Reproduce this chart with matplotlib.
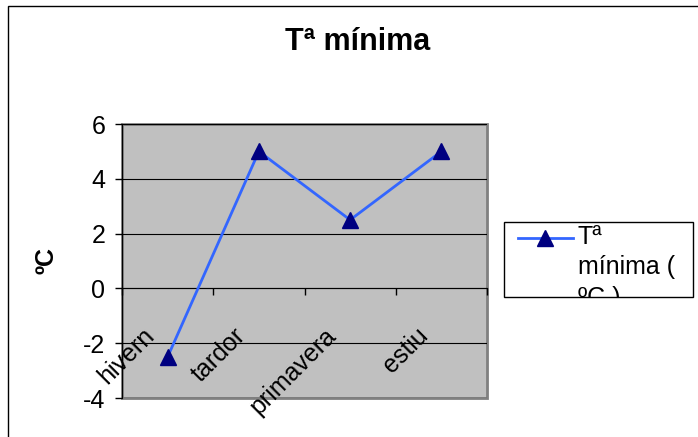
import matplotlib
matplotlib.use("Agg")
import matplotlib.pyplot as plt
from matplotlib.patches import Rectangle
from matplotlib.lines import Line2D

plt.rcParams["font.family"] = ["Liberation Sans", "DejaVu Sans"]

# seasonal minimum temperature (ºC)
seasons = ["hivern", "tardor", "primavera", "estiu"]
t_min = [-2.5, 5, 2.5, 5]
y_ticks = [-4, -2, 0, 2, 4, 6]

W, H = 698, 437
fig = plt.figure(figsize=(W / 100, H / 100), dpi=100)

# outer chart frame
fig.patches.append(Rectangle((8 / W, -0.1), 1.2, 1 - 6 / H + 0.1,
                             transform=fig.transFigure, fill=False,
                             edgecolor="black", linewidth=1.0))

ax = fig.add_axes([122 / W, 39 / H, 365 / W, 274 / H])
ax.set_facecolor("#C0C0C0")
ax.patch.set_edgecolor("#808080")
ax.patch.set_linewidth(2.0)

x = list(range(len(seasons)))
ax.plot(x, t_min, color="#3366FF", linewidth=2, marker="^",
        markersize=12, markerfacecolor="#000080", markeredgecolor="#000080",
        zorder=3)

ax.set_xlim(-0.5, len(seasons) - 0.5)
ax.set_ylim(-4, 6)
ax.set_yticks(y_ticks)
ax.set_yticklabels([str(v) for v in y_ticks], fontsize=18)
ax.grid(axis="y", color="black", linewidth=0.8)
ax.set_axisbelow(True)

for side in ["top", "right"]:
    ax.spines[side].set_visible(False)
ax.spines["left"].set_color("black")
ax.spines["bottom"].set_position(("data", 0))
ax.spines["bottom"].set_color("black")

ax.set_xticks([i - 0.5 for i in range(len(seasons) + 1)])
ax.set_xticklabels([])
ax.tick_params(axis="x", direction="out", length=5, width=1)
ax.tick_params(axis="y", direction="out", length=5, width=1, pad=7)

for i, name in enumerate(seasons):
    ax.annotate(name, xy=(i, 0), xytext=(-9, -35), textcoords="offset pixels",
                ha="right", va="top", rotation=45, fontsize=18)

fig.text(358 / W, 1 - 42 / H, "Tª mínima", ha="center", va="center",
         fontsize=22, fontweight="bold")
fig.text(47 / W, 1 - 260 / H, "ºC", ha="center", va="center",
         rotation=90, fontsize=18, fontweight="bold")

# legend box drawn by hand so the wrapped label is clipped like the frame
box = Rectangle((504 / W, 1 - 297 / H), 189 / W, 75 / H,
                transform=fig.transFigure, facecolor="white",
                edgecolor="black", linewidth=1.0)
fig.patches.append(box)
fig.lines.append(Line2D([518 / W, 573 / W], [1 - 238 / H] * 2,
                        transform=fig.transFigure, color="#3366FF", linewidth=2))
fig.lines.append(Line2D([545 / W], [1 - 238 / H], transform=fig.transFigure,
                        marker="^", markersize=12, color="#000080",
                        linestyle="none"))
leg_text = fig.text(578 / W, 1 - 225 / H, "Tª\nmínima (\nºC )", ha="left",
                    va="top", fontsize=18, linespacing=1.33)
leg_text.set_clip_path(box)

fig.savefig("out.png", dpi=100)
